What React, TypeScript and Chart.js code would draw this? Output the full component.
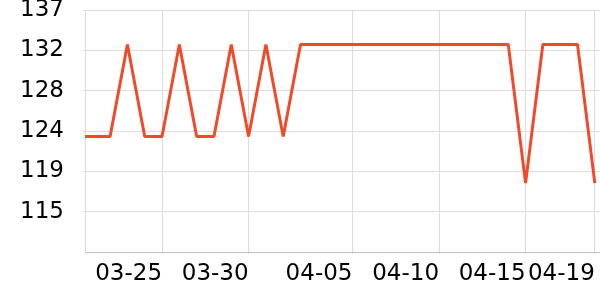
import React, { useEffect, useRef } from 'react';
import { Chart, registerables } from 'chart.js';

Chart.register(...registerables);

// ---- data ----
const dates = [
  '03-20', '03-21', '03-22', '03-23', '03-24', '03-25', '03-26', '03-27', '03-28', '03-29', '03-30',
  '03-31', '04-01', '04-02', '04-03', '04-04', '04-05', '04-06', '04-07', '04-08', '04-09',
  '04-10', '04-11', '04-12', '04-13', '04-14', '04-15', '04-16', '04-17', '04-18', '04-19',
];
const values = [
  123.4, 123.4, 123.4, 133.3, 123.4, 123.4, 133.3, 123.4, 123.4, 133.3, 123.4,
  133.3, 123.4, 133.3, 133.3, 133.3, 133.3, 133.3, 133.3, 133.3, 133.3,
  133.3, 133.3, 133.3, 133.3, 133.3, 118.4, 133.3, 133.3, 133.3, 118.4,
];
const xTickLabels = ['03-25', '03-30', '04-05', '04-10', '04-15', '04-19'];
const yMin = 111;
const yMax = 137;
const ySplits = 6;

// day number counted from 03-20
const dayOf = (s: string) => {
  const [m, d] = s.split('-').map(Number);
  return m === 3 ? d - 20 : 11 + d;
};

const X_MIN = 0.55;
const X_MAX = 30.3;

export default function App() {
  const ref = useRef<HTMLCanvasElement | null>(null);

  useEffect(() => {
    if (!ref.current) return;
    Chart.defaults.font.family = '"DejaVu Sans", sans-serif';
    const chart = new Chart(ref.current, {
      type: 'line',
      data: {
        datasets: [
          {
            data: dates.map((d, i) => ({ x: dayOf(d), y: values[i] })),
            borderColor: '#ee4b2b',
            borderWidth: 3,
            pointRadius: 0,
            tension: 0,
            fill: false,
            borderJoinStyle: 'bevel',
          },
        ],
      },
      options: {
        animation: false,
        responsive: false,
        layout: { padding: { top: 10, left: 0, right: 0, bottom: 0 } },
        plugins: { legend: { display: false }, tooltip: { enabled: false } },
        scales: {
          x: {
            type: 'linear',
            min: X_MIN,
            max: X_MAX,
            afterBuildTicks: (scale: any) => {
              scale.ticks = [{ value: X_MIN }, ...xTickLabels.map((l) => ({ value: dayOf(l) }))];
            },
            afterFit: (scale: any) => {
              scale.height = 48;
              scale.paddingLeft = 0;
              scale.paddingRight = 0;
            },
            ticks: {
              autoSkip: false,
              maxRotation: 0,
              minRotation: 0,
              align: 'end',
              padding: 6,
              color: '#000',
              font: { size: 23 },
              callback: (_v: any, i: number) => (i === 0 ? '' : xTickLabels[i - 1]),
            },
            grid: { color: '#dcdcdc', tickLength: 2, lineWidth: 1 },
            border: { display: true, color: '#bdbdbd', width: 1 },
          },
          y: {
            type: 'linear',
            min: yMin,
            max: yMax,
            afterBuildTicks: (scale: any) => {
              const step = (yMax - yMin) / ySplits;
              const t: any[] = [];
              for (let i = 0; i < ySplits; i++) t.push({ value: yMax - i * step });
              scale.ticks = t.reverse();
            },
            afterFit: (scale: any) => {
              scale.width = 85;
              scale.paddingTop = 0;
              scale.paddingBottom = 0;
            },
            ticks: {
              padding: 19,
              color: '#000',
              font: { size: 23 },
              callback: (v: any) => String(Math.floor(Number(v) + 1e-6)),
            },
            grid: { color: '#dcdcdc', tickLength: 2, lineWidth: 1 },
            border: { display: true, color: '#dcdcdc', width: 1 },
          },
        },
      },
    } as any);
    return () => chart.destroy();
  }, []);

  return (
    <div style={{ position: 'absolute', left: 0, top: 0, width: 600, height: 300, background: '#fff' }}>
      <canvas ref={ref} width={600} height={300} style={{ display: 'block' }} />
    </div>
  );
}
